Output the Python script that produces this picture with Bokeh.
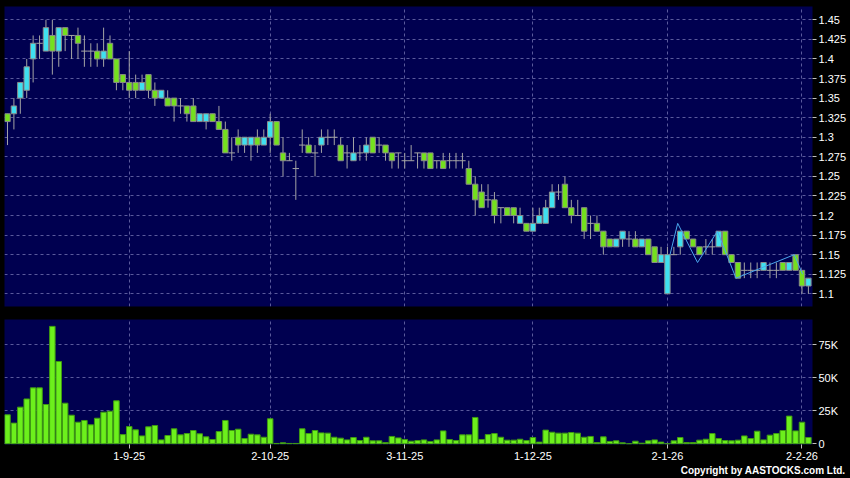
from bokeh.plotting import figure
from bokeh.layouts import column
from bokeh.models import FixedTicker, CustomJSTickFormatter, Range1d, Title
from bokeh.embed import file_html
from bokeh.resources import INLINE

# ---------------- data ----------------
opens = [1.33,1.33,1.35,1.36,1.40,1.42,1.41,1.43,1.41,1.44,1.43,1.43,1.41,1.41,1.41,1.40,1.42,1.40,1.38,1.37,
         1.37,1.36,1.38,1.36,1.35,1.35,1.35,1.34,1.34,1.34,1.32,1.32,1.33,1.32,1.31,1.28,1.30,1.29,1.29,1.30,
         1.29,1.30,1.32,1.28,1.27,1.26,1.29,1.29,1.28,1.29,1.30,1.30,1.29,1.28,1.27,1.28,1.28,1.30,1.29,1.29,
         1.28,1.28,1.27,1.27,1.28,1.28,1.28,1.27,1.27,1.27,1.27,1.27,1.26,1.24,1.23,1.22,1.22,1.21,1.21,1.21,
         1.19,1.19,1.18,1.19,1.19,1.21,1.23,1.24,1.21,1.20,1.21,1.19,1.19,1.18,1.17,1.16,1.17,1.17,1.17,1.16,
         1.17,1.16,1.14,1.10,1.15,1.16,1.18,1.17,1.16,1.16,1.16,1.16,1.18,1.15,1.14,1.13,1.13,1.13,1.13,1.13,
         1.13,1.14,1.13,1.15,1.13,1.11]
highs = [1.33,1.35,1.37,1.40,1.43,1.43,1.45,1.45,1.44,1.44,1.43,1.44,1.43,1.42,1.42,1.44,1.43,1.40,1.38,1.41,
         1.38,1.38,1.38,1.37,1.36,1.36,1.35,1.35,1.34,1.35,1.33,1.33,1.33,1.34,1.32,1.30,1.31,1.30,1.30,1.31,
         1.31,1.33,1.32,1.30,1.28,1.27,1.31,1.30,1.29,1.31,1.31,1.31,1.30,1.29,1.30,1.29,1.30,1.30,1.30,1.29,
         1.28,1.28,1.28,1.29,1.28,1.28,1.28,1.27,1.28,1.28,1.28,1.28,1.27,1.25,1.24,1.24,1.23,1.21,1.21,1.21,
         1.21,1.19,1.21,1.21,1.22,1.24,1.24,1.25,1.22,1.22,1.21,1.20,1.20,1.18,1.17,1.17,1.18,1.18,1.18,1.17,
         1.17,1.16,1.16,1.16,1.16,1.18,1.18,1.17,1.16,1.17,1.17,1.18,1.18,1.15,1.14,1.14,1.14,1.14,1.14,1.14,
         1.14,1.14,1.14,1.15,1.13,1.12]
lows = [1.29,1.31,1.33,1.35,1.37,1.40,1.41,1.38,1.39,1.41,1.40,1.40,1.39,1.39,1.39,1.39,1.40,1.36,1.36,1.35,
        1.35,1.36,1.35,1.34,1.35,1.34,1.32,1.33,1.32,1.32,1.32,1.31,1.32,1.31,1.28,1.27,1.28,1.28,1.27,1.28,
        1.29,1.28,1.29,1.25,1.27,1.22,1.28,1.28,1.25,1.28,1.29,1.29,1.27,1.26,1.27,1.27,1.27,1.28,1.28,1.27,
        1.26,1.26,1.26,1.27,1.26,1.26,1.26,1.26,1.26,1.26,1.26,1.26,1.24,1.20,1.21,1.21,1.19,1.19,1.20,1.19,
        1.19,1.18,1.18,1.19,1.19,1.21,1.22,1.21,1.19,1.20,1.17,1.17,1.18,1.15,1.16,1.16,1.16,1.16,1.16,1.16,
        1.15,1.14,1.14,1.10,1.15,1.15,1.17,1.16,1.15,1.15,1.15,1.16,1.15,1.14,1.12,1.12,1.12,1.12,1.13,1.12,
        1.12,1.13,1.13,1.13,1.10,1.10]
closes = [1.32,1.34,1.37,1.39,1.42,1.42,1.44,1.41,1.44,1.43,1.43,1.42,1.41,1.41,1.40,1.41,1.40,1.37,1.37,1.36,
          1.36,1.37,1.36,1.35,1.36,1.34,1.34,1.34,1.33,1.32,1.33,1.33,1.32,1.31,1.28,1.28,1.29,1.30,1.30,1.29,
          1.30,1.32,1.29,1.27,1.27,1.26,1.29,1.28,1.28,1.30,1.30,1.30,1.27,1.28,1.28,1.28,1.29,1.28,1.29,1.28,
          1.27,1.28,1.27,1.27,1.28,1.27,1.26,1.27,1.26,1.27,1.27,1.27,1.24,1.22,1.21,1.22,1.20,1.21,1.20,1.20,
          1.20,1.18,1.19,1.20,1.21,1.23,1.23,1.21,1.20,1.20,1.18,1.19,1.18,1.16,1.16,1.17,1.18,1.17,1.16,1.17,
          1.15,1.14,1.15,1.15,1.15,1.18,1.17,1.16,1.15,1.16,1.16,1.18,1.15,1.14,1.12,1.13,1.13,1.13,1.14,1.13,
          1.13,1.13,1.14,1.13,1.11,1.12]
volumes_k = [22,15.7,27.8,34,42.4,42.4,29.8,89,62.4,30.8,21.7,16.4,17.7,14.4,19.4,24,24.7,32.6,7,13.1,
             10.6,6,12.9,13.9,3,6.3,11.4,6.8,7.8,10.1,7.6,5.3,3.3,9.3,17.7,10.1,11.1,4,7.3,6.8,
             5,19,0.3,0.8,0.3,0.3,11.4,7.8,10.1,8.3,8.1,5,4.3,3,4.8,2.5,5,2.3,2.3,1,
             5.6,4.5,3.3,2,2.5,3,1.8,3,9.8,3.3,2.5,6.8,6.8,20,3.3,7,7.8,5,2.8,2.8,
             3.5,2.5,4.8,1.3,10.4,8.8,8.1,8.1,8.6,8.1,5,5.6,1,5.3,1.8,2.3,0.8,0,2,0.5,
             2.3,3,1.3,0,2.3,4.8,1,1,2.8,3.5,7.8,4,2.5,2.3,2.8,6,4,9.6,3,6.6,
             7.8,10.1,21,9.8,16.4,4.8]

# light-blue swing line (bar position, price)
swing_idx = [103.4, 104.6, 107.7, 110.8, 113.7, 122.8, 124.1]
swing_price = [1.15, 1.19, 1.14, 1.18, 1.12, 1.15, 1.125]

date_tick_idx = [19, 41, 62, 82, 103, 124]
date_tick_labels = ["1-9-25", "2-10-25", "3-11-25", "1-12-25", "2-1-26", "2-2-26"]
price_ticks = [1.1, 1.125, 1.15, 1.175, 1.2, 1.225, 1.25, 1.275, 1.3, 1.325, 1.35, 1.375, 1.4, 1.425, 1.45]
price_tick_labels = ["1.1", "1.125", "1.15", "1.175", "1.2", "1.225", "1.25", "1.275", "1.3", "1.325",
                     "1.35", "1.375", "1.4", "1.425", "1.45"]
vol_ticks_k = [0, 25, 50, 75]
vol_tick_labels = ["0", "25K", "50K", "75K"]
copyright_text = "Copyright by AASTOCKS.com Ltd."

# ---------------- styles ----------------
BG = "#000050"
GRID = "#5a5a9c"
WICK = "#a4a4a4"
BODY_EDGE = "#8a8a8a"
UP = "#3fe0f0"
DOWN = "#74e01e"
VOL = "#6cf01c"
VOL_EDGE = "#3f9a12"
FONT = "Liberation Sans"

N = len(opens)
idx = list(range(N))

JS = """
let best = 0, d = Infinity;
for (let i = 0; i < vals.length; i++) { const e = Math.abs(vals[i] - tick); if (e < d) { d = e; best = i; } }
return labs[best];
"""

def style_axis(ax):
    ax.axis_line_color = None
    ax.major_tick_line_color = "#c0c0c0"
    ax.major_tick_in = 0
    ax.major_tick_out = 4
    ax.minor_tick_line_color = None
    ax.major_label_text_color = "white"
    ax.major_label_text_font = FONT
    ax.major_label_text_font_size = "11px"

def style_grid(fig):
    for g in (fig.xgrid[0], fig.ygrid[0]):
        g.grid_line_color = GRID
        g.grid_line_dash = "3 3"
        g.grid_line_width = 1

xr = Range1d(-0.468, N - 1 + 0.64)

# ---------------- price panel ----------------
p = figure(width=850, height=312, x_range=xr, y_range=Range1d(1.0838, 1.467),
           output_backend="svg", toolbar_location=None, y_axis_location="right",
           x_axis_location=None,
           min_border_left=4, min_border_right=38, min_border_top=6, min_border_bottom=6,
           background_fill_color=BG, border_fill_color="black", outline_line_color=None)
p.yaxis.ticker = FixedTicker(ticks=price_ticks)
p.yaxis.formatter = CustomJSTickFormatter(args=dict(vals=price_ticks, labs=price_tick_labels), code=JS)
style_axis(p.yaxis[0])
p.yaxis.major_label_standoff = 2
p.xgrid.ticker = FixedTicker(ticks=date_tick_idx)
p.ygrid.ticker = FixedTicker(ticks=price_ticks)
style_grid(p)

# wicks
p.segment(x0=idx, y0=lows, x1=idx, y1=highs, line_color=WICK, line_width=1)

up_i = [i for i in idx if closes[i] > opens[i]]
dn_i = [i for i in idx if closes[i] < opens[i]]
dj_i = [i for i in idx if closes[i] == opens[i]]

p.vbar(x=up_i, width=0.84, bottom=[opens[i] for i in up_i], top=[closes[i] for i in up_i],
       fill_color=UP, line_color=BODY_EDGE, line_width=1)
p.vbar(x=dn_i, width=0.84, bottom=[closes[i] for i in dn_i], top=[opens[i] for i in dn_i],
       fill_color=DOWN, line_color=BODY_EDGE, line_width=1)
p.segment(x0=[i - 0.5 for i in dj_i], y0=[opens[i] for i in dj_i],
          x1=[i + 0.5 for i in dj_i], y1=[opens[i] for i in dj_i], line_color=WICK, line_width=1)

p.line(x=swing_idx, y=swing_price, line_color="#4aa6ec", line_width=1)

# ---------------- volume panel ----------------
v = figure(width=850, height=166, x_range=xr, y_range=Range1d(-0.5, 94.2),
           output_backend="svg", toolbar_location=None, y_axis_location="right",
           min_border_left=4, min_border_right=38, min_border_top=7, min_border_bottom=34,
           background_fill_color=BG, border_fill_color="black", outline_line_color=None)
v.yaxis.ticker = FixedTicker(ticks=vol_ticks_k)
v.yaxis.formatter = CustomJSTickFormatter(args=dict(vals=vol_ticks_k, labs=vol_tick_labels), code=JS)
style_axis(v.yaxis[0])
v.yaxis.major_label_standoff = 2
v.xaxis.ticker = FixedTicker(ticks=date_tick_idx)
v.xaxis.formatter = CustomJSTickFormatter(args=dict(vals=date_tick_idx, labs=date_tick_labels), code=JS)
style_axis(v.xaxis[0])
v.xaxis.major_label_standoff = 3
style_grid(v)

v.vbar(x=idx, width=0.86, bottom=0, top=volumes_k, fill_color=VOL, line_color=VOL_EDGE, line_width=1)

v.add_layout(Title(text=copyright_text, align="right", offset=-33, standoff=0,
                   text_color="white", text_font=FONT, text_font_size="10px",
                   text_font_style="bold"), "below")

layout = column(p, v, spacing=0, styles={"background-color": "black"})

open("out.html", "w").write(file_html(layout, INLINE))
